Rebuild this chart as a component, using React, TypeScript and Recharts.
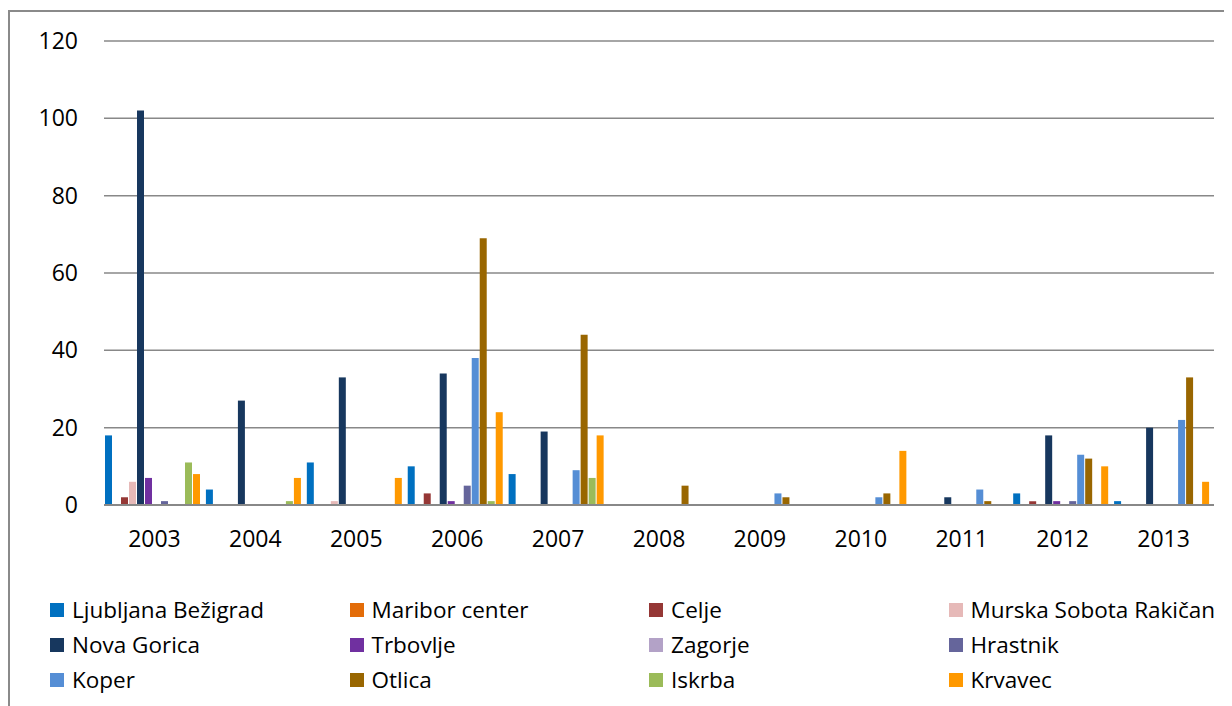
import React from "react";
import { Bar, BarChart, CartesianGrid, XAxis, YAxis } from "recharts";

const years = ["2003", "2004", "2005", "2006", "2007", "2008", "2009", "2010", "2011", "2012", "2013"];

const ljubljana = [18, 4, 11, 10, 8, 0, 0, 0, 0, 3, 1];
const maribor = [0, 0, 0, 0, 0, 0, 0, 0, 0, 0, 0];
const celje = [2, 0, 0, 3, 0, 0, 0, 0, 0, 1, 0];
const murska = [6, 0, 1, 0, 0, 0, 0, 0, 0, 0, 0];
const novaGorica = [102, 27, 33, 34, 19, 0, 0, 0, 2, 18, 20];
const trbovlje = [7, 0, 0, 1, 0, 0, 0, 0, 0, 1, 0];
const zagorje = [0, 0, 0, 0, 0, 0, 0, 0, 0, 0, 0];
const hrastnik = [1, 0, 0, 5, 0, 0, 0, 0, 0, 1, 0];
const koper = [0, 0, 0, 38, 9, 0, 3, 2, 4, 13, 22];
const otlica = [0, 0, 0, 69, 44, 5, 2, 3, 1, 12, 33];
const iskrba = [11, 1, 0, 1, 7, 0, 0, 0, 0, 0, 0];
const krvavec = [8, 7, 7, 24, 18, 0, 0, 14, 0, 10, 6];

const yTicks = [0, 20, 40, 60, 80, 100, 120];

const series = [
  { key: "lj", name: "Ljubljana Bežigrad", values: ljubljana, color: "#0070C0" },
  { key: "mb", name: "Maribor center", values: maribor, color: "#E36C09" },
  { key: "ce", name: "Celje", values: celje, color: "#953735" },
  { key: "ms", name: "Murska Sobota Rakičan", values: murska, color: "#E6B9B8" },
  { key: "ng", name: "Nova Gorica", values: novaGorica, color: "#17375E" },
  { key: "tr", name: "Trbovlje", values: trbovlje, color: "#7030A0" },
  { key: "za", name: "Zagorje", values: zagorje, color: "#B3A2C7" },
  { key: "hr", name: "Hrastnik", values: hrastnik, color: "#65659B" },
  { key: "ko", name: "Koper", values: koper, color: "#558ED5" },
  { key: "ot", name: "Otlica", values: otlica, color: "#996600" },
  { key: "is", name: "Iskrba", values: iskrba, color: "#9BBB59" },
  { key: "kr", name: "Krvavec", values: krvavec, color: "#FF9900" },
];

const data = years.map((year, i) => {
  const row: any = { year };
  series.forEach(s => { row[s.key] = s.values[i]; });
  return row;
});

const FONT = "'Open Sans', 'Noto Sans', sans-serif";

export default function App() {
  return (
    <div style={{ position: "relative", width: 1224, height: 698, overflow: "hidden", fontFamily: FONT }}>
      <div style={{
        position: "absolute", left: 0, top: 2, width: 1400, height: 900,
        borderLeft: "2px solid #8a8a8a", borderTop: "2px solid #8a8a8a",
      }} />
      <div style={{ position: "absolute", left: 0, top: 0 }}>
        <BarChart
          width={1224}
          height={698}
          data={data}
          margin={{ top: 33, right: 18, bottom: 171, left: 0 }}
          barCategoryGap={1}
          barGap={1}
        >
          <CartesianGrid vertical={false} stroke="#888888" strokeWidth={1.5} />
          <XAxis
            dataKey="year"
            tickLine={false}
            axisLine={{ stroke: "#888888", strokeWidth: 2 }}
            tick={{ fill: "#000", fontSize: 23, fontFamily: FONT }}
            tickMargin={20}
            interval={0}
          />
          <YAxis
            width={96}
            domain={[0, 120]}
            ticks={yTicks}
            tickLine={false}
            axisLine={false}
            tick={{ fill: "#000", fontSize: 23, fontFamily: FONT }}
            tickMargin={20}
          />
          {series.map(s => (
            <Bar key={s.key} dataKey={s.key} name={s.name} fill={s.color} isAnimationActive={false} />
          ))}
        </BarChart>
      </div>
      <div style={{ position: "absolute", left: 42, top: 584, width: 1200 }}>
        {[0, 1, 2].map(r => (
          <div key={r} style={{ display: "flex", height: 35 }}>
            {series.slice(r * 4, r * 4 + 4).map(s => (
              <div key={s.key} style={{ width: 299.5, display: "flex", alignItems: "center", fontSize: 22.5, color: "#000" }}>
                <span style={{ width: 14, height: 14, background: s.color, marginRight: 8, flex: "none" }} />
                <span>{s.name}</span>
              </div>
            ))}
          </div>
        ))}
      </div>
    </div>
  );
}
